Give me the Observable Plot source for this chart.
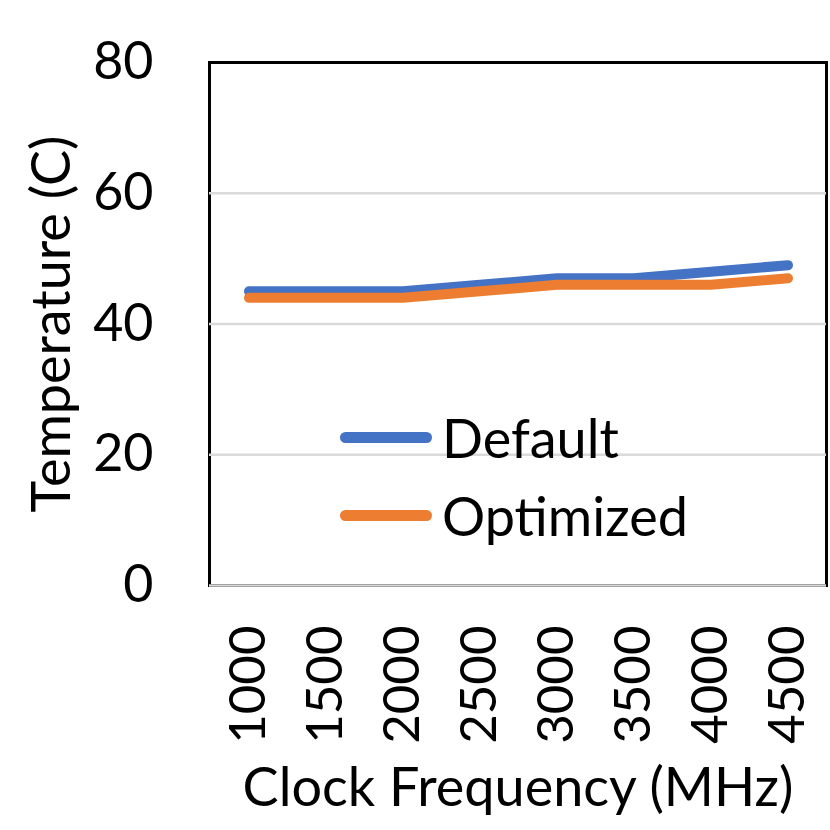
<!DOCTYPE html>
<html>
<head>
<meta charset="utf-8">
<script src="https://cdn.jsdelivr.net/npm/d3@7"></script>
<script src="https://cdn.jsdelivr.net/npm/@observablehq/plot@0.6"></script>
<style>
  html, body { margin: 0; padding: 0; background: #fff; }
  #wrap { position: relative; width: 830px; height: 830px; font-family: Lato, "Noto Sans", sans-serif; }
  #legend { position: absolute; left: 340px; top: 398px; font-size: 54px; color: #000; }
  .item { display: flex; align-items: center; height: 78px; }
  .sw { width: 92px; height: 11px; border-radius: 6px; margin-right: 10px; }
</style>
</head>
<body>
<div id="wrap"></div>
<script>
const frequencies = ["1000", "1500", "2000", "2500", "3000", "3500", "4000", "4500"];
const defaultTemp = [45, 45, 45, 46, 47, 47, 48, 49];
const optimizedTemp = [44, 44, 44, 45, 46, 46, 46, 47];
const seriesNames = ["Default", "Optimized"];
const seriesColors = ["#4472C4", "#ED7D31"];
const yTicks = [0, 20, 40, 60, 80];

const rows = [];
frequencies.forEach((f, i) => {
  rows.push({freq: f, temp: defaultTemp[i], series: seriesNames[0]});
  rows.push({freq: f, temp: optimizedTemp[i], series: seriesNames[1]});
});

const chart = Plot.plot({
  width: 830,
  height: 830,
  marginLeft: 209,
  marginRight: 4,
  marginTop: 62,
  marginBottom: 245,
  style: {fontFamily: "Lato, 'Noto Sans', sans-serif", fontSize: "52px", color: "#000", background: "#fff"},
  x: {type: "band", domain: frequencies, padding: 0, label: null},
  y: {domain: [0, 80], label: null},
  color: {domain: seriesNames, range: seriesColors},
  marks: [
    Plot.frame({stroke: "#000", strokeWidth: 3}),
    Plot.ruleY(yTicks.slice(0, 4), {stroke: "#d9d9d9", strokeWidth: 2.5}),
    Plot.axisY(yTicks, {tickSize: 0, tickPadding: 56, fontSize: 52, label: null}),
    Plot.axisX({tickSize: 0, tickPadding: 40, tickRotate: -90, fontSize: 51, label: null}),
    Plot.line(rows, {x: "freq", y: "temp", z: "series", stroke: "series", strokeWidth: 10, strokeLinecap: "round", strokeLinejoin: "round"}),
    Plot.text(["Clock Frequency (MHz)"], {frameAnchor: "bottom", dy: 220, fontSize: 54, fill: "#000"}),
    Plot.text(["Temperature (C)"], {frameAnchor: "left", textAnchor: "middle", dx: -157, rotate: -90, fontSize: 54, fill: "#000"})
  ]
});

const wrap = document.getElementById("wrap");
wrap.appendChild(chart);
const legend = document.createElement("div");
legend.id = "legend";
seriesNames.forEach((name, i) => {
  const item = document.createElement("div");
  item.className = "item";
  const sw = document.createElement("span");
  sw.className = "sw";
  sw.style.background = seriesColors[i];
  const t = document.createElement("span");
  t.textContent = name;
  item.appendChild(sw);
  item.appendChild(t);
  legend.appendChild(item);
});
wrap.appendChild(legend);
</script>
</body>
</html>
